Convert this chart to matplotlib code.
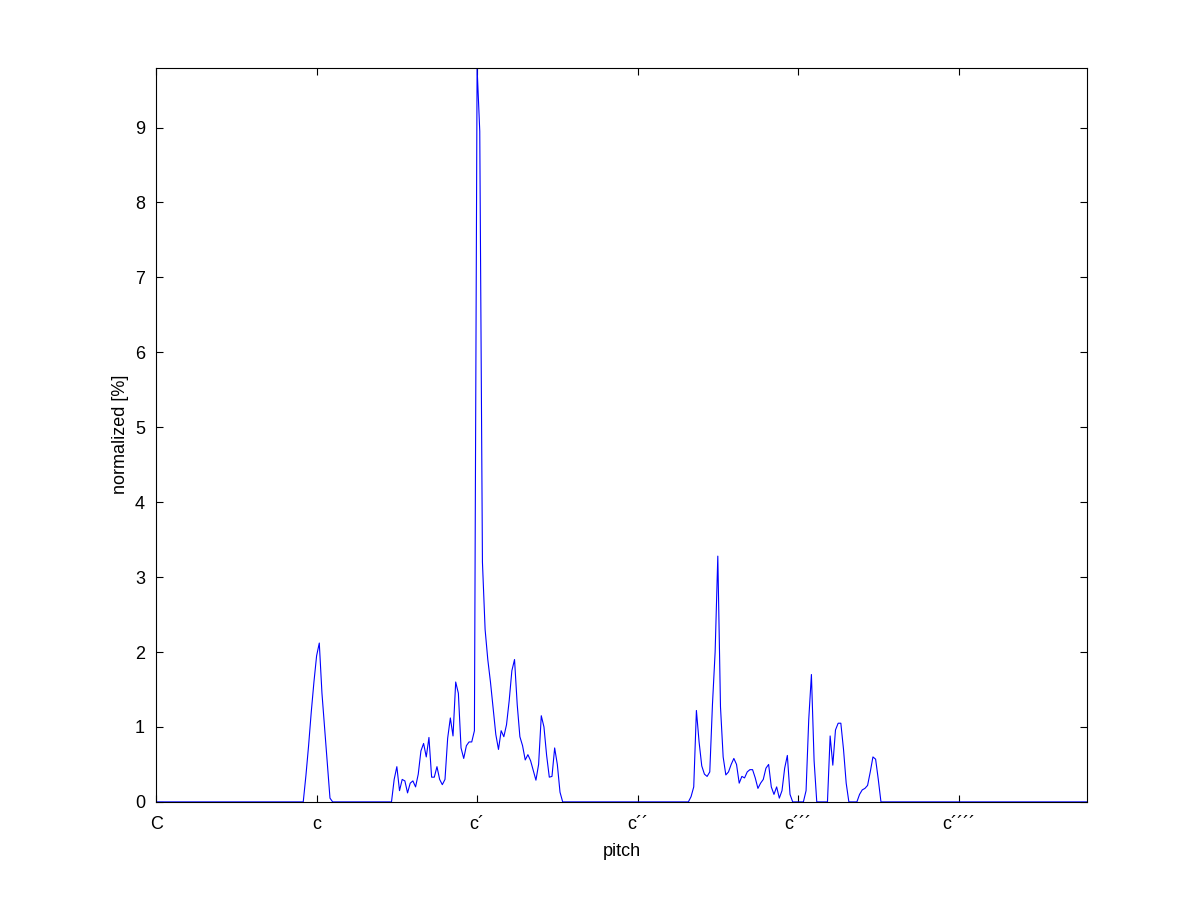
import numpy as np
import matplotlib
matplotlib.use("Agg")
import matplotlib.pyplot as plt

plt.rcParams['font.family'] = ['Liberation Sans', 'DejaVu Sans']

# pitch grid: 0.2 semitone bins starting at C
step = 0.2
n_bins = 349

# nonzero stretches of the histogram (start bin, values in %)
seg_c_start = 55
seg_c = [0, 0.35, 0.75, 1.2, 1.6, 1.95, 2.12, 1.45, 0.98, 0.5, 0.05, 0]

seg_c1_start = 88
seg_c1 = [0, 0.3, 0.47, 0.15, 0.3, 0.28, 0.12, 0.25, 0.28, 0.2,
          0.37, 0.68, 0.78, 0.6, 0.86, 0.33, 0.33, 0.47, 0.3, 0.23,
          0.3, 0.85, 1.12, 0.88, 1.6, 1.45, 0.72, 0.58, 0.75, 0.8,
          0.8, 0.95, 9.8, 8.95, 3.2, 2.3, 1.9, 1.6, 1.25, 0.9,
          0.7, 0.95, 0.87, 1.03, 1.35, 1.75, 1.9, 1.3, 0.87, 0.75,
          0.56, 0.63, 0.55, 0.42, 0.29, 0.5, 1.15, 1.0, 0.62, 0.33,
          0.34, 0.72, 0.5, 0.13, 0]

seg_c3_start = 199
seg_c3 = [0, 0.07, 0.2, 1.22, 0.8, 0.48, 0.37, 0.34, 0.4, 1.3,
          2.0, 3.28, 1.27, 0.6, 0.36, 0.4, 0.5, 0.58, 0.5, 0.25,
          0.34, 0.32, 0.4, 0.43, 0.43, 0.32, 0.18, 0.25, 0.3, 0.45,
          0.5, 0.2, 0.1, 0.2, 0.05, 0.15, 0.45, 0.62, 0.1, 0,
          0, 0, 0, 0, 0.15, 1.1, 1.7, 0.55, 0, 0,
          0, 0, 0, 0.88, 0.49, 0.96, 1.05, 1.05, 0.7, 0.25,
          0, 0, 0, 0, 0.1, 0.16, 0.18, 0.22, 0.4, 0.6,
          0.57, 0.3, 0]

tick_pitch = [0, 12, 24, 36, 48, 60]
tick_names = ['C', 'c', 'c\u00b4', 'c\u00b4\u00b4', 'c\u00b4\u00b4\u00b4', 'c\u00b4\u00b4\u00b4\u00b4']

pitch = np.arange(n_bins) * step
level = np.zeros(n_bins)
for start, vals in [(seg_c_start, seg_c), (seg_c1_start, seg_c1), (seg_c3_start, seg_c3)]:
    level[start:start + len(vals)] = vals

fig = plt.figure(figsize=(12.01, 9.01), dpi=100)
ax = fig.add_axes([0.13, 0.11, 0.775, 0.815])
ax.plot(pitch, level, color='blue', linewidth=0.8)

ax.set_xlim(pitch[0], pitch[-1])
ax.set_ylim(0, 9.8)
ax.set_xticks(tick_pitch)
ax.set_xticklabels(tick_names)
ax.set_yticks(range(10))
ax.tick_params(axis='x', pad=10)
ax.tick_params(axis='y', pad=8)
ax.tick_params(direction='in', length=5, width=0.8, top=True, right=True,
               labelsize=13)
for s in ax.spines.values():
    s.set_linewidth(0.8)
ax.set_xlabel('pitch', fontsize=13, labelpad=7)
ax.set_ylabel('normalized [%]', fontsize=13, labelpad=4)

fig.savefig('out.png', dpi=100)
